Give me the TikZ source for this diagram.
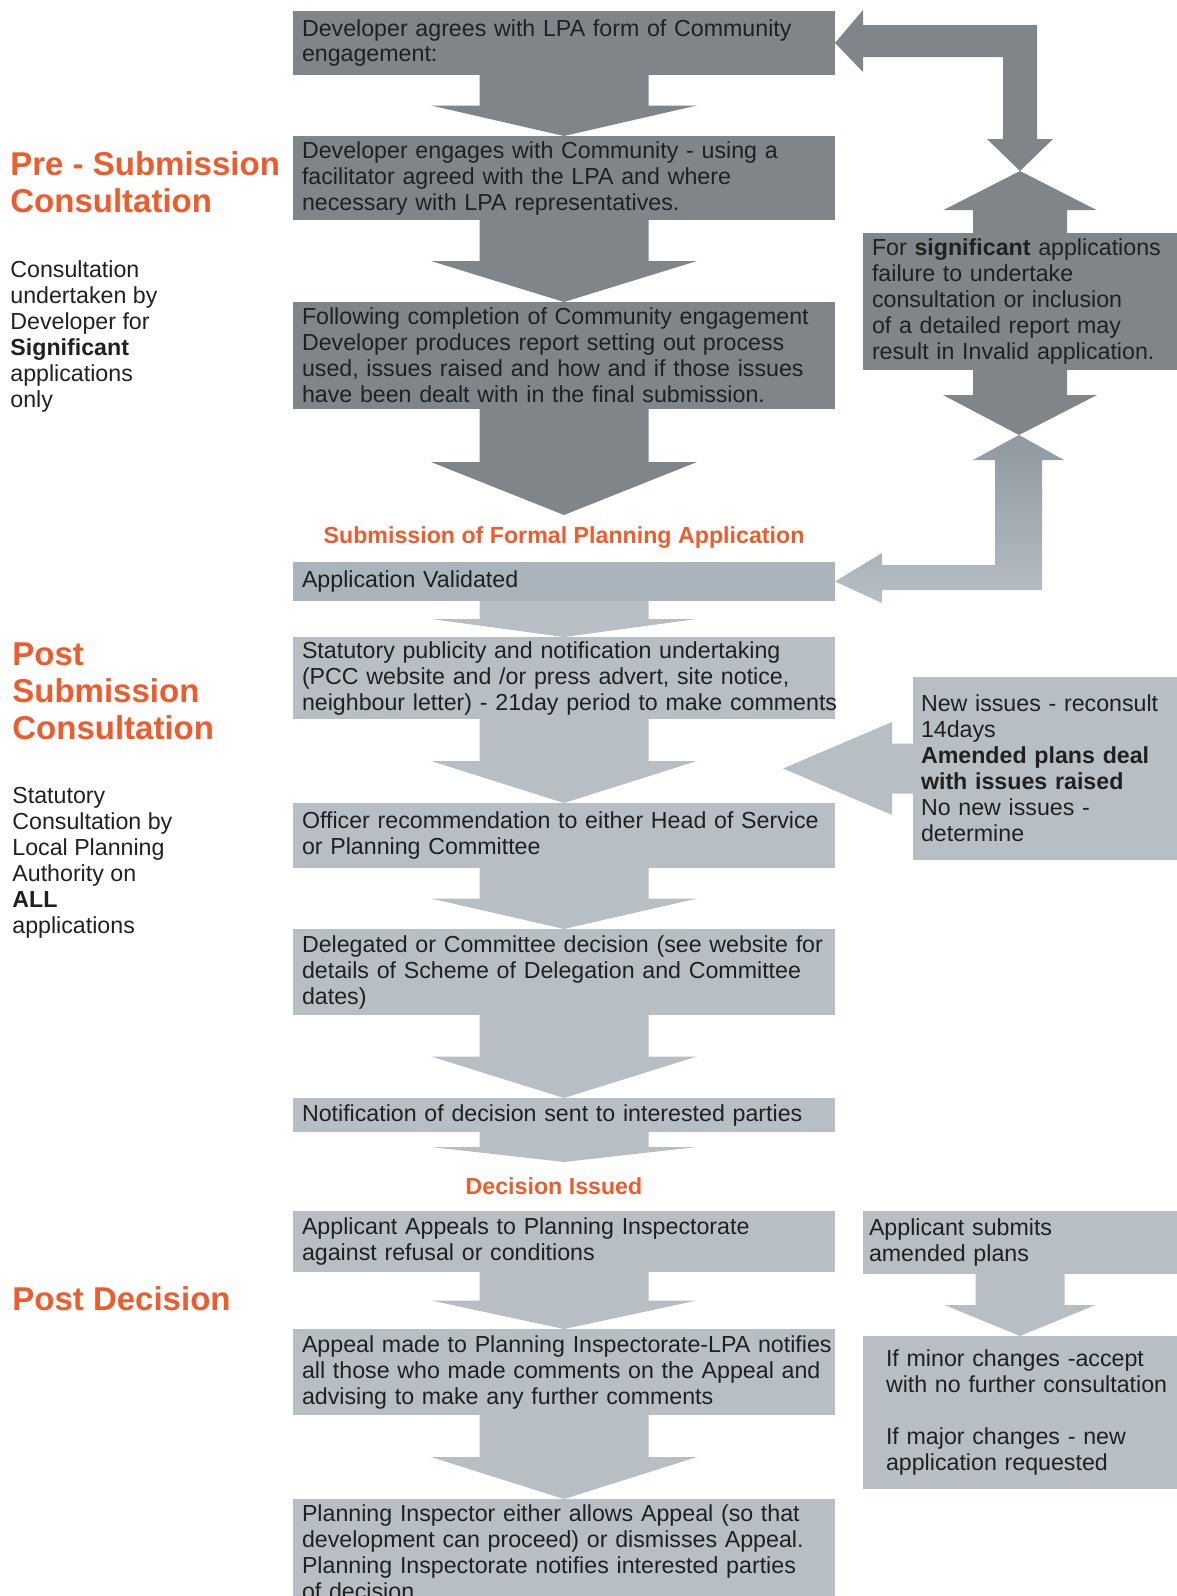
\documentclass[tikz,border=0pt]{standalone}
\usepackage{fontspec}
\setmainfont{Liberation Sans}
\usepackage{xcolor}
\usetikzlibrary{positioning,calc}
\definecolor{boxgrey}{RGB}{128,133,138}
\definecolor{boxpale}{RGB}{183,191,197}
\definecolor{boxmid}{RGB}{170,180,188}
\definecolor{linkgrey}{RGB}{145,153,160}
\definecolor{headorange}{RGB}{238,92,44}
\definecolor{boxtext}{RGB}{32,32,32}
\tikzset{
  stage/.style={anchor=north, text width=262pt, inner xsep=4.5pt, inner ysep=0pt, outer sep=0pt, align=left, text=boxtext, font=\fontsize{11.6}{13}\selectfont},
  sidebox/.style={anchor=north west, inner ysep=0pt, outer sep=0pt, align=left, text=boxtext, font=\fontsize{11.6}{13}\selectfont},
  steplabel/.style={anchor=north, inner sep=0pt, outer sep=0pt, minimum height=23pt, text=headorange, font=\fontsize{11.6}{13}\selectfont\bfseries},
  phase/.style={anchor=west, inner sep=0pt, align=left, text=headorange, font=\fontsize{16.5}{18.5}\selectfont\bfseries},
  phasenote/.style={anchor=west, inner sep=0pt, align=left, text=boxtext, font=\fontsize{11.6}{13}\selectfont}
}
% block arrow from the bottom of #2 to the top of #3
\newcommand{\blockdown}[5]{%
  \fill[#1] let \p1=(#2.south), \p2=(#3.north), \p3=($(#2.south)!0.5!(#3.north)$) in (\x1-#4,\y1) -- (\x1+#4,\y1) -- (\x1+#4,\y3) -- (\x1+#5,\y3) -- (\x1,\y2) -- (\x1-#5,\y3) -- (\x1-#4,\y3) -- cycle;}

\begin{document}
\begin{tikzpicture}[x=0.5pt, y=-0.5pt]
\useasboundingbox (0,0) rectangle (1177,1596);

% main column
\node[stage, fill=boxgrey, minimum height=32pt, anchor=north west] (agree) at (293,11) {Developer agrees with LPA form of Community\\engagement:};
\node[stage, fill=boxgrey, minimum height=42pt, below=30.5pt of agree] (engage) {Developer engages with Community - using a\\facilitator agreed with the LPA and where\\necessary with LPA representatives.};
\node[stage, fill=boxgrey, minimum height=53.5pt, below=41pt of engage] (report) {Following completion of Community engagement\\Developer produces report setting out process\\used, issues raised and how and if those issues\\have been dealt with in the final submission.};
\node[steplabel, below=53pt of report] (submit-label) {Submission of Formal Planning Application};
\node[stage, fill=boxmid, minimum height=19.5pt, below=0.5pt of submit-label] (validated) {Application Validated};
\node[stage, fill=boxpale, minimum height=41pt, below=18pt of validated] (publicity) {Statutory publicity and notification undertaking\\(PCC website and /or press advert, site notice,\\\mbox{neighbour letter) - 21day period to make comments}};
\node[stage, fill=boxpale, minimum height=32.5pt, below=42pt of publicity] (officer) {Officer recommendation to either Head of Service\\or Planning Committee};
\node[stage, fill=boxpale, minimum height=43pt, below=30.5pt of officer] (decision) {Delegated or Committee decision (see website for\\details of Scheme of Delegation and Committee\\dates)};
\node[stage, fill=boxpale, minimum height=17pt, below=41.5pt of decision] (notify) {Notification of decision sent to interested parties};
\node[steplabel, minimum height=24.5pt, below=15pt of notify, xshift=-5pt] (issued-label) {Decision Issued};
\node[stage, fill=boxpale, minimum height=30.5pt, below=0pt of issued-label, xshift=5pt] (appeal) {Applicant Appeals to Planning Inspectorate\\against refusal or conditions};
\node[stage, fill=boxpale, minimum height=43pt, below=28.5pt of appeal] (appeal-made) {\mbox{Appeal made to Planning Inspectorate-LPA notifies}\\all those who made comments on the Appeal and\\advising to make any further comments};
\node[stage, fill=boxpale, minimum height=53pt, below=42pt of appeal-made] (inspector) {Planning Inspector either allows Appeal (so that\\development can proceed) or dismisses Appeal.\\Planning Inspectorate notifies interested parties\\of decision};

\blockdown{boxgrey}{agree}{engage}{42.25pt}{66.5pt}
\blockdown{boxgrey}{engage}{report}{42.25pt}{66.5pt}
\blockdown{boxgrey}{report}{submit-label}{42.25pt}{66.5pt}
\blockdown{boxpale}{validated}{publicity}{42.25pt}{66.5pt}
\blockdown{boxpale}{publicity}{officer}{42.25pt}{66.5pt}
\blockdown{boxpale}{officer}{decision}{42.25pt}{66.5pt}
\blockdown{boxpale}{decision}{notify}{42.25pt}{66.5pt}
\blockdown{boxpale}{notify}{issued-label}{42.25pt}{66.5pt}
\blockdown{boxpale}{appeal}{appeal-made}{42.25pt}{66.5pt}
\blockdown{boxpale}{appeal-made}{inspector}{42.25pt}{66.5pt}

% right column
\node[sidebox, fill=boxgrey, text width=148pt, inner xsep=4.5pt, minimum height=68.5pt] (invalid) at (863,233) {For \textbf{significant} applications\\failure to undertake\\consultation or inclusion\\of a detailed report may\\result in Invalid application.};
\node[sidebox, fill=boxpale, text width=124pt, inner xsep=4pt, minimum height=91.5pt] (reconsult) at (913,677) {New issues - reconsult\\14days\\\textbf{Amended plans deal}\\\textbf{with issues raised}\\No new issues -\\determine};
\node[sidebox, fill=boxpale, text width=151pt, inner xsep=3pt, minimum height=31.5pt] (amend) at (863,1211) {Applicant submits\\amended plans};
\node[sidebox, fill=boxpale, text width=134pt, inner xsep=11.5pt, minimum height=76.5pt, anchor=north, below=31pt of amend] (minor) {If minor changes -accept\\\mbox{with no further consultation}\\[13pt]If major changes - new\\application requested};

\blockdown{boxpale}{amend}{minor}{22.25pt}{37.75pt}

\coordinate (top-meet) at (1020,171);
\coordinate (low-meet) at (1019,435);
\coordinate (reconsult-tip) at ($(reconsult.west)+(-130,0)$);
\fill[boxgrey] ($(invalid.north)+(-47,0)$) -- ++(0,-23) -- ++(-29.5,0) -- (top-meet) -- ($(invalid.north)+(76.5,-23)$) -- ++(-29.5,0) -- ($(invalid.north)+(47,0)$) -- cycle;
\fill[boxgrey] (top-meet) -- (987,139) -- (1003,139) -- (1003,57) -- (863,57) -- (863,72) -- (agree.east) -- (863,10) -- (863,25) -- (1037,25) -- (1037,139) -- (1053,139) -- cycle;
\fill[boxgrey] ($(invalid.south)+(-47,0)$) -- ++(0,25) -- ++(-30,0) -- (low-meet) -- ($(invalid.south)+(77,25)$) -- ++(-30,0) -- ($(invalid.south)+(47,0)$) -- cycle;
\shade[top color=linkgrey, bottom color=boxpale] (low-meet) -- (1064,460) -- (1042,460) -- (1042,590) -- (882,590) -- (882,603) -- (validated.east) -- (882,553) -- (882,565) -- (995,565) -- (995,460) -- (973,460) -- cycle;
\fill[boxpale] ($(reconsult.west)+(0,-25)$) -- ++(-21,0) -- ++(0,-21.5) -- (reconsult-tip) -- ($(reconsult.west)+(-21,46.5)$) -- ++(0,-21.5) -- ($(reconsult.west)+(0,25)$) -- cycle;

% left side
\node[phase] (pre-title) at (10,182) {Pre - Submission\\Consultation};
\node[phasenote] (pre-text) at (10,336) {Consultation\\undertaken by\\Developer for\\\textbf{Significant}\\applications\\only};
\node[phase] (post-title) at (12,691) {Post\\Submission\\Consultation};
\node[phasenote] (post-text) at (12,863) {Statutory\\Consultation by\\Local Planning\\Authority on\\\textbf{ALL}\\applications};
\node[phase] (decision-title) at (12,1299) {Post Decision};
\end{tikzpicture}
\end{document}
